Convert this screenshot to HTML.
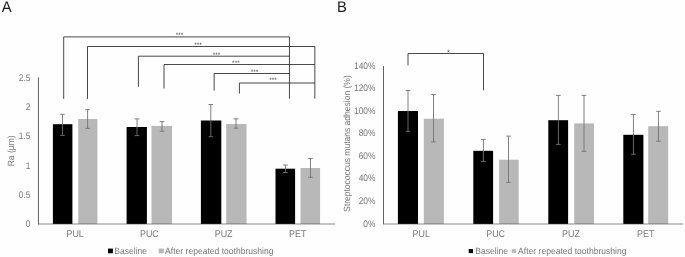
<!DOCTYPE html>
<html lang="en">
<head>
<meta charset="utf-8">
<title>Figure</title>
<style>
html,body{margin:0;padding:0;background:#fefefe;}
body{width:685px;height:257px;overflow:hidden;}
svg{display:block;font-family:"Liberation Sans",Arial,sans-serif;text-rendering:geometricPrecision;}
</style>
</head>
<body>
<svg width="685" height="257" viewBox="0 0 685 257">
<rect x="0" y="0" width="685" height="257" fill="#fefefe"/>
<g>
<rect x="52.90" y="124.20" width="19.50" height="99.70" fill="#000000"/>
<rect x="78.20" y="119.00" width="19.20" height="104.90" fill="#b8b8b8"/>
<rect x="126.60" y="127.00" width="20.30" height="96.90" fill="#000000"/>
<rect x="151.50" y="125.90" width="20.50" height="98.00" fill="#b8b8b8"/>
<rect x="200.90" y="120.50" width="20.40" height="103.40" fill="#000000"/>
<rect x="226.20" y="124.00" width="20.30" height="99.90" fill="#b8b8b8"/>
<rect x="275.50" y="168.70" width="19.60" height="55.20" fill="#000000"/>
<rect x="300.50" y="168.00" width="19.60" height="55.90" fill="#b8b8b8"/>
<line x1="62.50" y1="114.30" x2="62.50" y2="135.40" stroke="#737373" stroke-width="0.9"/>
<line x1="60.20" y1="114.30" x2="64.80" y2="114.30" stroke="#737373" stroke-width="0.9"/>
<line x1="60.20" y1="135.40" x2="64.80" y2="135.40" stroke="#737373" stroke-width="0.9"/>
<line x1="87.60" y1="109.60" x2="87.60" y2="128.40" stroke="#737373" stroke-width="0.9"/>
<line x1="85.30" y1="109.60" x2="89.90" y2="109.60" stroke="#737373" stroke-width="0.9"/>
<line x1="85.30" y1="128.40" x2="89.90" y2="128.40" stroke="#737373" stroke-width="0.9"/>
<line x1="137.00" y1="118.90" x2="137.00" y2="135.60" stroke="#737373" stroke-width="0.9"/>
<line x1="134.70" y1="118.90" x2="139.30" y2="118.90" stroke="#737373" stroke-width="0.9"/>
<line x1="134.70" y1="135.60" x2="139.30" y2="135.60" stroke="#737373" stroke-width="0.9"/>
<line x1="162.00" y1="121.60" x2="162.00" y2="131.20" stroke="#737373" stroke-width="0.9"/>
<line x1="159.70" y1="121.60" x2="164.30" y2="121.60" stroke="#737373" stroke-width="0.9"/>
<line x1="159.70" y1="131.20" x2="164.30" y2="131.20" stroke="#737373" stroke-width="0.9"/>
<line x1="210.80" y1="104.50" x2="210.80" y2="136.70" stroke="#737373" stroke-width="0.9"/>
<line x1="208.50" y1="104.50" x2="213.10" y2="104.50" stroke="#737373" stroke-width="0.9"/>
<line x1="208.50" y1="136.70" x2="213.10" y2="136.70" stroke="#737373" stroke-width="0.9"/>
<line x1="236.00" y1="118.90" x2="236.00" y2="128.20" stroke="#737373" stroke-width="0.9"/>
<line x1="233.70" y1="118.90" x2="238.30" y2="118.90" stroke="#737373" stroke-width="0.9"/>
<line x1="233.70" y1="128.20" x2="238.30" y2="128.20" stroke="#737373" stroke-width="0.9"/>
<line x1="285.50" y1="165.00" x2="285.50" y2="172.50" stroke="#737373" stroke-width="0.9"/>
<line x1="283.20" y1="165.00" x2="287.80" y2="165.00" stroke="#737373" stroke-width="0.9"/>
<line x1="283.20" y1="172.50" x2="287.80" y2="172.50" stroke="#737373" stroke-width="0.9"/>
<line x1="310.50" y1="158.40" x2="310.50" y2="177.30" stroke="#737373" stroke-width="0.9"/>
<line x1="308.20" y1="158.40" x2="312.80" y2="158.40" stroke="#737373" stroke-width="0.9"/>
<line x1="308.20" y1="177.30" x2="312.80" y2="177.30" stroke="#737373" stroke-width="0.9"/>
<line x1="38.00" y1="224.00" x2="335.00" y2="224.00" stroke="#000000" stroke-width="1" stroke-opacity="0.45"/>
<line x1="38.45" y1="77.40" x2="38.45" y2="224.40" stroke="#505050" stroke-width="0.9"/>
<text transform="translate(30.35,227.10) scale(0.88,1)" font-size="9.5" text-anchor="end" fill="#777777">0</text>
<text transform="translate(30.35,197.80) scale(0.88,1)" font-size="9.5" text-anchor="end" fill="#777777">0.5</text>
<text transform="translate(30.35,168.50) scale(0.88,1)" font-size="9.5" text-anchor="end" fill="#777777">1</text>
<text transform="translate(30.35,139.20) scale(0.88,1)" font-size="9.5" text-anchor="end" fill="#777777">1.5</text>
<text transform="translate(30.35,109.90) scale(0.88,1)" font-size="9.5" text-anchor="end" fill="#777777">2</text>
<text transform="translate(30.35,80.60) scale(0.88,1)" font-size="9.5" text-anchor="end" fill="#777777">2.5</text>
<text transform="translate(75.10,237.00) scale(0.92,1)" font-size="9.7" text-anchor="middle" fill="#777777">PUL</text>
<text transform="translate(149.40,237.00) scale(0.92,1)" font-size="9.7" text-anchor="middle" fill="#777777">PUC</text>
<text transform="translate(223.60,237.00) scale(0.92,1)" font-size="9.7" text-anchor="middle" fill="#777777">PUZ</text>
<text transform="translate(297.70,237.00) scale(0.92,1)" font-size="9.7" text-anchor="middle" fill="#777777">PET</text>
</g>
<g>
<rect x="397.90" y="111.00" width="20.10" height="112.90" fill="#000000"/>
<rect x="423.80" y="118.70" width="20.10" height="105.20" fill="#b8b8b8"/>
<rect x="473.30" y="150.80" width="19.80" height="73.10" fill="#000000"/>
<rect x="499.10" y="159.70" width="19.60" height="64.20" fill="#b8b8b8"/>
<rect x="548.30" y="120.20" width="19.80" height="103.70" fill="#000000"/>
<rect x="574.20" y="123.40" width="19.80" height="100.50" fill="#b8b8b8"/>
<rect x="623.30" y="134.80" width="20.10" height="89.10" fill="#000000"/>
<rect x="648.20" y="126.20" width="20.00" height="97.70" fill="#b8b8b8"/>
<line x1="408.00" y1="90.50" x2="408.00" y2="131.30" stroke="#737373" stroke-width="0.9"/>
<line x1="405.70" y1="90.50" x2="410.30" y2="90.50" stroke="#737373" stroke-width="0.9"/>
<line x1="405.70" y1="131.30" x2="410.30" y2="131.30" stroke="#737373" stroke-width="0.9"/>
<line x1="433.50" y1="94.50" x2="433.50" y2="141.90" stroke="#737373" stroke-width="0.9"/>
<line x1="431.20" y1="94.50" x2="435.80" y2="94.50" stroke="#737373" stroke-width="0.9"/>
<line x1="431.20" y1="141.90" x2="435.80" y2="141.90" stroke="#737373" stroke-width="0.9"/>
<line x1="483.40" y1="139.40" x2="483.40" y2="161.60" stroke="#737373" stroke-width="0.9"/>
<line x1="481.10" y1="139.40" x2="485.70" y2="139.40" stroke="#737373" stroke-width="0.9"/>
<line x1="481.10" y1="161.60" x2="485.70" y2="161.60" stroke="#737373" stroke-width="0.9"/>
<line x1="508.50" y1="136.10" x2="508.50" y2="182.40" stroke="#737373" stroke-width="0.9"/>
<line x1="506.20" y1="136.10" x2="510.80" y2="136.10" stroke="#737373" stroke-width="0.9"/>
<line x1="506.20" y1="182.40" x2="510.80" y2="182.40" stroke="#737373" stroke-width="0.9"/>
<line x1="558.40" y1="95.40" x2="558.40" y2="144.40" stroke="#737373" stroke-width="0.9"/>
<line x1="556.10" y1="95.40" x2="560.70" y2="95.40" stroke="#737373" stroke-width="0.9"/>
<line x1="556.10" y1="144.40" x2="560.70" y2="144.40" stroke="#737373" stroke-width="0.9"/>
<line x1="584.00" y1="95.40" x2="584.00" y2="151.30" stroke="#737373" stroke-width="0.9"/>
<line x1="581.70" y1="95.40" x2="586.30" y2="95.40" stroke="#737373" stroke-width="0.9"/>
<line x1="581.70" y1="151.30" x2="586.30" y2="151.30" stroke="#737373" stroke-width="0.9"/>
<line x1="633.45" y1="114.40" x2="633.45" y2="154.30" stroke="#737373" stroke-width="0.9"/>
<line x1="631.15" y1="114.40" x2="635.75" y2="114.40" stroke="#737373" stroke-width="0.9"/>
<line x1="631.15" y1="154.30" x2="635.75" y2="154.30" stroke="#737373" stroke-width="0.9"/>
<line x1="658.45" y1="111.30" x2="658.45" y2="141.20" stroke="#737373" stroke-width="0.9"/>
<line x1="656.15" y1="111.30" x2="660.75" y2="111.30" stroke="#737373" stroke-width="0.9"/>
<line x1="656.15" y1="141.20" x2="660.75" y2="141.20" stroke="#737373" stroke-width="0.9"/>
<line x1="383.50" y1="224.00" x2="683.40" y2="224.00" stroke="#000000" stroke-width="1" stroke-opacity="0.45"/>
<line x1="383.50" y1="66.00" x2="383.50" y2="224.40" stroke="#505050" stroke-width="0.9"/>
<text transform="translate(375.40,226.50) scale(0.88,1)" font-size="9.5" text-anchor="end" fill="#777777">0%</text>
<text transform="translate(375.40,203.95) scale(0.88,1)" font-size="9.5" text-anchor="end" fill="#777777">20%</text>
<text transform="translate(375.40,181.40) scale(0.88,1)" font-size="9.5" text-anchor="end" fill="#777777">40%</text>
<text transform="translate(375.40,158.85) scale(0.88,1)" font-size="9.5" text-anchor="end" fill="#777777">60%</text>
<text transform="translate(375.40,136.30) scale(0.88,1)" font-size="9.5" text-anchor="end" fill="#777777">80%</text>
<text transform="translate(375.40,113.75) scale(0.88,1)" font-size="9.5" text-anchor="end" fill="#777777">100%</text>
<text transform="translate(375.40,91.20) scale(0.88,1)" font-size="9.5" text-anchor="end" fill="#777777">120%</text>
<text transform="translate(375.40,68.65) scale(0.88,1)" font-size="9.5" text-anchor="end" fill="#777777">140%</text>
<text transform="translate(421.20,237.00) scale(0.92,1)" font-size="9.7" text-anchor="middle" fill="#777777">PUL</text>
<text transform="translate(495.60,237.00) scale(0.92,1)" font-size="9.7" text-anchor="middle" fill="#777777">PUC</text>
<text transform="translate(571.00,237.00) scale(0.92,1)" font-size="9.7" text-anchor="middle" fill="#777777">PUZ</text>
<text transform="translate(645.70,237.00) scale(0.92,1)" font-size="9.7" text-anchor="middle" fill="#777777">PET</text>
</g>
<g>
<polyline points="63.70,98.90 63.70,36.90 289.45,36.90" fill="none" stroke="#1a1a1a" stroke-width="0.8"/>
<polyline points="87.50,98.90 87.50,46.50 314.85,46.50" fill="none" stroke="#1a1a1a" stroke-width="0.8"/>
<polyline points="138.40,86.80 138.40,56.20 289.45,56.20" fill="none" stroke="#1a1a1a" stroke-width="0.8"/>
<polyline points="164.00,88.50 164.00,64.50 314.85,64.50" fill="none" stroke="#1a1a1a" stroke-width="0.8"/>
<polyline points="214.15,90.60 214.15,73.50 289.45,73.50" fill="none" stroke="#1a1a1a" stroke-width="0.8"/>
<polyline points="239.40,93.60 239.40,83.00 314.85,83.00" fill="none" stroke="#1a1a1a" stroke-width="0.8"/>
<line x1="289.45" y1="36.90" x2="289.45" y2="98.70" stroke="#1a1a1a" stroke-width="0.8"/>
<line x1="314.85" y1="46.50" x2="314.85" y2="98.70" stroke="#1a1a1a" stroke-width="0.8"/>
<text transform="translate(179.50,36.80) scale(1,1)" font-size="6.5" text-anchor="middle" fill="#333">***</text>
<text transform="translate(198.10,46.70) scale(1,1)" font-size="6.5" text-anchor="middle" fill="#333">***</text>
<text transform="translate(216.50,56.80) scale(1,1)" font-size="6.5" text-anchor="middle" fill="#333">***</text>
<text transform="translate(235.90,65.20) scale(1,1)" font-size="6.5" text-anchor="middle" fill="#333">***</text>
<text transform="translate(254.60,74.10) scale(1,1)" font-size="6.5" text-anchor="middle" fill="#333">***</text>
<text transform="translate(273.00,82.40) scale(1,1)" font-size="6.5" text-anchor="middle" fill="#333">***</text>
</g>
<g>
<polyline points="408.00,65.20 408.00,53.50 483.50,53.50 483.50,90.30" fill="none" stroke="#1a1a1a" stroke-width="0.8"/>
<text transform="translate(448.50,54.50) scale(1,1)" font-size="7.5" text-anchor="middle" fill="#444">*</text>
</g>
<g>
<rect x="108.00" y="248.60" width="4.90" height="4.70" fill="#000000"/>
<text transform="translate(114.30,253.60) scale(0.95,1)" font-size="9" text-anchor="start" fill="#777777">Baseline</text>
<rect x="158.70" y="248.60" width="5.10" height="4.70" fill="#b8b8b8"/>
<text transform="translate(165.10,253.60) scale(0.95,1)" font-size="9" text-anchor="start" fill="#777777">After repeated toothbrushing</text>
</g>
<g>
<rect x="468.70" y="249.00" width="4.30" height="4.10" fill="#000000"/>
<text transform="translate(475.30,253.60) scale(0.95,1)" font-size="9" text-anchor="start" fill="#777777">Baseline</text>
<rect x="511.70" y="249.20" width="4.40" height="3.60" fill="#b8b8b8"/>
<text transform="translate(518.10,253.60) scale(0.95,1)" font-size="9" text-anchor="start" fill="#777777">After repeated toothbrushing</text>
</g>
<text transform="translate(14.30,150.85) rotate(-90) scale(0.945,1)" font-size="9" text-anchor="middle" fill="#777777">Ra (µm)</text>
<text transform="translate(349.90,143.60) rotate(-90) scale(0.945,1)" font-size="9" text-anchor="middle" fill="#777777">Streptococcus mutans adhesion (%)</text>
<text transform="translate(1.80,12.10) scale(0.96,1)" font-size="15.4" text-anchor="start" fill="#1a1a1a">A</text>
<text transform="translate(337.10,12.10) scale(0.96,1)" font-size="15.4" text-anchor="start" fill="#1a1a1a">B</text>
</svg>
</body>
</html>
